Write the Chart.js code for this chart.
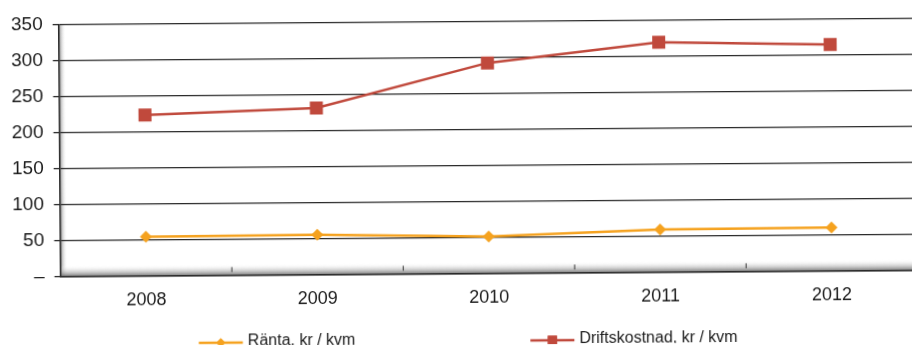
<!DOCTYPE html>
<html>
<head>
<meta charset="utf-8">
<script src="https://cdn.jsdelivr.net/npm/chart.js@4.4.0/dist/chart.umd.min.js"></script>
<style>
  html, body { margin: 0; padding: 0; background: #fff; overflow: hidden; width: 912px; height: 345px; }
  #wrap { position: absolute; left: 0; top: 0; width: 926px; height: 345px;
          transform: rotate(-0.42deg); transform-origin: 456px 170px; }
  canvas { display: block; }
</style>
</head>
<body>
<div id="wrap"><canvas id="c" width="926" height="345"></canvas></div>
<script>
// Kostnader per kvadratmeter, 2008–2012
const years = ['2008', '2009', '2010', '2011', '2012'];

const rantaLabel = 'Ränta, kr / kvm';
const rantaValues = [54, 55, 51, 59, 60];

const driftLabel = 'Driftskostnad, kr / kvm';
const driftValues = [223, 231, 292, 319, 314];

const yMin = 0;
const yMax = 350;
const yStep = 50;
const zeroLabel = '–';

const FONT = '"Liberation Sans", Arial, sans-serif';
const INK = '#1b1b1b';

// Shaded back wall on the left and floor strip along the bottom (3-D look)
const depthPlugin = {
  id: 'depth',
  beforeDraw(chart) {
    const { ctx, chartArea: a } = chart;
    ctx.save();
    let g = ctx.createLinearGradient(a.left, 0, a.left + 7, 0);
    g.addColorStop(0, 'rgba(110,110,110,0.8)');
    g.addColorStop(1, 'rgba(255,255,255,0)');
    ctx.fillStyle = g;
    ctx.fillRect(a.left, a.top, 7, a.bottom - a.top);

    g = ctx.createLinearGradient(0, a.bottom - 11, 0, a.bottom);
    g.addColorStop(0, 'rgba(255,255,255,0)');
    g.addColorStop(1, 'rgba(105,105,105,0.85)');
    ctx.fillStyle = g;
    ctx.fillRect(a.left, a.bottom - 11, a.right - a.left, 11);
    ctx.restore();
  },
  afterDraw(chart) {
    // small marks on the floor between the categories
    const { ctx, chartArea: a, scales: { x } } = chart;
    ctx.save();
    ctx.strokeStyle = '#333';
    ctx.lineWidth = 1;
    for (let i = 0; i < years.length; i++) {
      const px = (x.getPixelForValue(i) + x.getPixelForValue(i + 1)) / 2;
      ctx.beginPath();
      ctx.moveTo(px, a.bottom - 8);
      ctx.lineTo(px, a.bottom - 3);
      ctx.stroke();
    }
    ctx.restore();
  }
};

// Legend row under the axis: line with marker, then the series name
const legendPlugin = {
  id: 'lineLegend',
  afterDraw(chart) {
    const { ctx } = chart;
    const lineLen = 44, textGap = 5, itemGap = 175, centerX = 467, y = 340;
    ctx.save();
    ctx.font = '16px ' + FONT;
    const items = chart.data.datasets.map(ds => ({
      text: ds.label, color: ds.borderColor, style: ds.pointStyle,
      r: ds.pointStyle === 'rect' ? 6.5 : 4.5,
      w: lineLen + textGap + ctx.measureText(ds.label).width
    }));
    const total = items.reduce((s, it) => s + it.w, 0) + itemGap * (items.length - 1);
    let x = centerX - total / 2;
    items.forEach(it => {
      ctx.strokeStyle = it.color;
      ctx.lineWidth = 2.5;
      ctx.beginPath();
      ctx.moveTo(x, y + 1);
      ctx.lineTo(x + lineLen, y + 1);
      ctx.stroke();
      ctx.fillStyle = it.color;
      Chart.helpers.drawPoint(ctx, { pointStyle: it.style, radius: it.r, rotation: 0, borderWidth: 0 }, x + lineLen / 2, y + 1);
      ctx.fill();
      ctx.fillStyle = INK;
      ctx.textBaseline = 'middle';
      ctx.textAlign = 'left';
      ctx.fillText(it.text, x + lineLen + textGap, y);
      x += it.w + itemGap;
    });
    ctx.restore();
  }
};

new Chart(document.getElementById('c'), {
  type: 'line',
  data: {
    labels: years,
    datasets: [
      {
        label: rantaLabel,
        data: rantaValues,
        borderColor: '#F5A21F',
        backgroundColor: '#F5A21F',
        borderWidth: 2.5,
        pointStyle: 'rectRot',
        pointRadius: 6,
        pointBorderWidth: 0,
        tension: 0
      },
      {
        label: driftLabel,
        data: driftValues,
        borderColor: '#C0493C',
        backgroundColor: '#C0493C',
        borderWidth: 2.5,
        pointStyle: 'rect',
        pointRadius: 9.2,
        pointBorderWidth: 0,
        tension: 0
      }
    ]
  },
  options: {
    responsive: false,
    animation: false,
    layout: { padding: { left: 2, right: 2, top: 8, bottom: 22 } },
    plugins: { legend: { display: false }, tooltip: { enabled: false } },
    scales: {
      x: {
        offset: true,
        grid: { display: false, drawTicks: false },
        border: { display: true, color: '#2a2a2a', width: 1.5 },
        ticks: { color: INK, padding: 14, font: { family: FONT, size: 18 } }
      },
      y: {
        min: yMin,
        max: yMax,
        ticks: {
          stepSize: yStep,
          color: INK,
          padding: 10,
          font: { family: FONT, size: 19 },
          callback: v => (v === 0 ? zeroLabel : v)
        },
        grid: { color: '#2a2a2a', lineWidth: 1.3, tickLength: 6, drawTicks: true },
        border: { display: true, color: '#2a2a2a', width: 1.5 }
      }
    }
  },
  plugins: [depthPlugin, legendPlugin]
});
</script>
</body>
</html>
